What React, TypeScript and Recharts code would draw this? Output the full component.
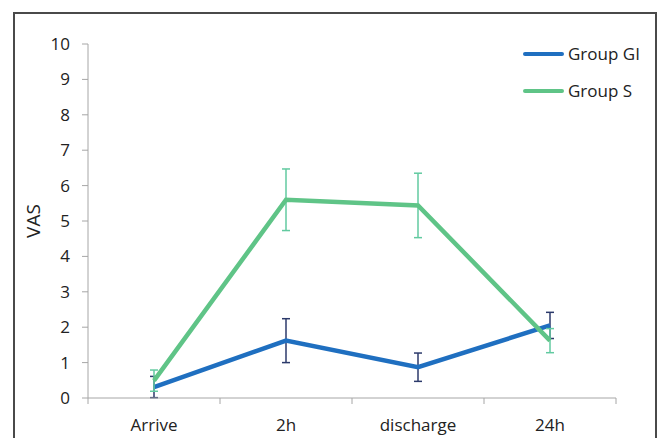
import { LineChart, Line, XAxis, YAxis, ErrorBar } from 'recharts'

const categories = ['Arrive', '2h', 'discharge', '24h']
const groupGI = [0.31, 1.62, 0.87, 2.05]
const groupGIErr = [0.3, 0.62, 0.4, 0.37]
const groupS = [0.49, 5.6, 5.44, 1.62]
const groupSErr = [0.3, 0.87, 0.91, 0.34]
const yTicks = [0, 1, 2, 3, 4, 5, 6, 7, 8, 9, 10]
const seriesNames = ['Group GI', 'Group S']

const BLUE = '#1f6fc0'
const BLUE_ERR = '#2c3a6b'
const GREEN = '#5fc487'
const GREEN_ERR = '#62caa0'
const AXIS = '#a6a6a6'
const TEXT = '#222'
const FONT = '"Open Sans", sans-serif'

// x positions at the middle of each category band, axis ticks at the band edges
const data = categories.map((c, i) => ({
  x: i + 0.5,
  label: c,
  gi: groupGI[i],
  giErr: groupGIErr[i],
  s: groupS[i],
  sErr: groupSErr[i],
}))

const xTicks: number[] = []
for (let i = 0; i <= categories.length; i++) {
  xTicks.push(i)
  if (i < categories.length) xTicks.push(i + 0.5)
}

function XTick(props: any) {
  const { x, y, payload } = props
  const v = payload.value as number
  if (Number.isInteger(v)) {
    return <line x1={x} x2={x} y1={y} y2={y + 6} stroke={AXIS} strokeWidth={1} />
  }
  return (
    <text x={x} y={y + 33} textAnchor="middle" fill={TEXT} fontSize={17} fontFamily={FONT}>
      {categories[Math.floor(v)]}
    </text>
  )
}

function LegendBox() {
  const colors = [BLUE, GREEN]
  return (
    <div style={{ position: 'absolute', left: 523, top: 35, fontFamily: FONT, fontSize: 17, color: TEXT }}>
      {seriesNames.map((name, i) => (
        <div key={name} style={{ display: 'flex', alignItems: 'center', height: 37 }}>
          <span style={{ display: 'inline-block', width: 41, height: 4, background: colors[i], borderRadius: 2, marginRight: 4 }} />
          <span>{name}</span>
        </div>
      ))}
    </div>
  )
}

export default function App() {
  return (
    <div style={{ position: 'absolute', left: 0, top: 0, width: 657, height: 438, background: '#fff', overflow: 'hidden' }}>
      <div
        style={{
          position: 'absolute',
          left: 13,
          top: 12,
          width: 640,
          height: 440,
          border: '2px solid #4a4a4a',
        }}
      />
      <div style={{ position: 'absolute', left: 0, top: 0 }}>
        <LineChart
          width={657}
          height={438}
          data={data}
          margin={{ top: 44, right: 41, left: 0, bottom: 0 }}
        >
          <XAxis
            dataKey="x"
            type="number"
            domain={[0, categories.length]}
            ticks={xTicks}
            interval={0}
            height={40}
            stroke={AXIS}
            tickLine={false}
            tickSize={0}
            tickMargin={0}
            tick={<XTick />}
          />
          <YAxis
            domain={[0, 10]}
            ticks={yTicks}
            interval={0}
            width={88}
            stroke={AXIS}
            tickSize={6}
            tickMargin={12}
            tick={{ fill: TEXT, fontSize: 17, fontFamily: FONT }}
            label={{
              value: 'VAS',
              angle: -90,
              position: 'insideLeft',
              offset: 33,
              style: { fill: TEXT, fontSize: 19, fontFamily: FONT, textAnchor: 'middle' },
            }}
          />
          <Line
            dataKey="gi"
            name={seriesNames[0]}
            stroke={BLUE}
            strokeWidth={4.5}
            dot={false}
            isAnimationActive={false}
          >
            <ErrorBar dataKey="giErr" direction="y" width={4} stroke={BLUE_ERR} strokeWidth={1.5} isAnimationActive={false} />
          </Line>
          <Line
            dataKey="s"
            name={seriesNames[1]}
            stroke={GREEN}
            strokeWidth={4.5}
            dot={false}
            isAnimationActive={false}
          >
            <ErrorBar dataKey="sErr" direction="y" width={4} stroke={GREEN_ERR} strokeWidth={1.5} isAnimationActive={false} />
          </Line>
        </LineChart>
      </div>
      <LegendBox />
    </div>
  )
}
